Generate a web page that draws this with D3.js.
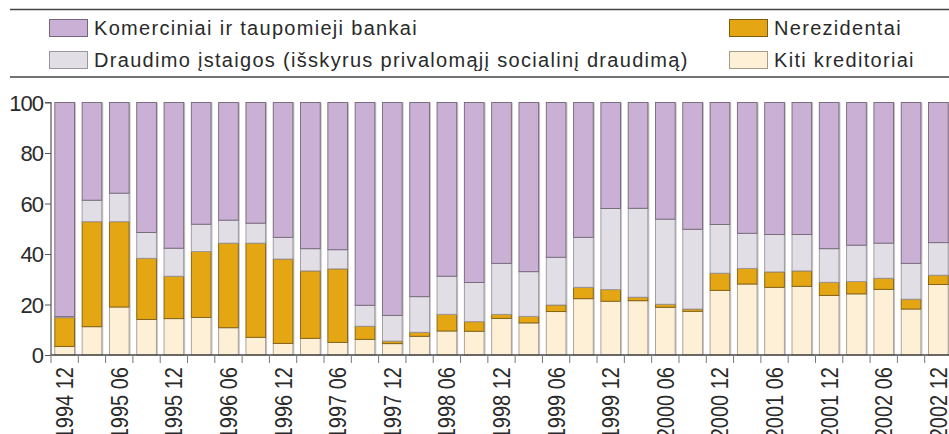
<!DOCTYPE html>
<html>
<head>
<meta charset="utf-8">
<script src="https://cdn.jsdelivr.net/npm/d3@7"></script>
<style>
  body { margin: 0; background: #fff; }
  svg { display: block; }
  .legend text { font-family: "Liberation Sans", Arial, sans-serif; font-size: 20px; letter-spacing: 1.3px; fill: #2a2a2a; }
  .axis text { font-family: "Liberation Sans", Arial, sans-serif; fill: #2a2a2a; }
</style>
</head>
<body>
<div id="chart"></div>
<script>
// quarterly periods 1994 12 .. 2002 12
const periods = ["1994 12","1995 03","1995 06","1995 09","1995 12","1996 03","1996 06","1996 09","1996 12",
  "1997 03","1997 06","1997 09","1997 12","1998 03","1998 06","1998 09","1998 12","1999 03","1999 06",
  "1999 09","1999 12","2000 03","2000 06","2000 09","2000 12","2001 03","2001 06","2001 09","2001 12",
  "2002 03","2002 06","2002 09","2002 12"];

const kiti = [3.4,11.2,19.0,14.1,14.4,14.9,10.8,7.0,4.6,6.6,5.0,6.2,4.5,7.4,9.5,9.4,14.5,12.7,17.2,22.3,21.3,
  21.5,18.9,17.3,25.6,28.1,26.8,27.2,23.6,24.2,26.0,18.2,27.9];
const nerez = [11.4,41.6,33.8,24.2,16.8,26.1,33.5,37.3,33.4,26.7,29.1,5.2,1.0,1.6,6.6,3.8,1.6,2.6,2.6,4.5,4.6,
  1.4,1.2,0.9,6.8,6.2,6.1,6.1,5.2,4.9,4.4,3.9,3.7];
const draud = [0.4,8.5,11.3,10.2,11.1,10.8,9.1,7.9,8.6,8.8,7.6,8.3,10.2,14.1,15.1,15.5,20.2,17.7,18.9,19.8,32.1,
  35.2,33.7,31.6,19.3,13.9,14.8,14.4,13.3,14.4,13.9,14.2,12.9];
const komerc = [84.8,38.7,35.9,51.5,57.7,48.2,46.6,47.8,53.4,57.9,58.3,80.3,84.3,76.9,68.8,71.3,63.7,67.0,61.3,
  53.4,42.0,41.9,46.2,50.2,48.3,51.8,52.3,52.3,57.9,56.5,55.7,63.7,55.5];

const yTicks = [0, 20, 40, 60, 80, 100];

const seriesKeys = ["kiti", "nerez", "draud", "komerc"];
const seriesNames = {
  komerc: "Komerciniai ir taupomieji bankai",
  nerez: "Nerezidentai",
  draud: "Draudimo įstaigos (išskyrus privalomąjį socialinį draudimą)",
  kiti: "Kiti kreditoriai"
};
const fills = { komerc: "#cbb0d5", nerez: "#e5a614", draud: "#e2dee6", kiti: "#fdf0d6" };
const strokes = { komerc: "#736676", nerez: "#7d5d12", draud: "#9a96a0", kiti: "#a69c8c" };

const W = 949, H = 434;
const x0 = 51, x1 = 952, y0 = 355, y1 = 102.5;

const rows = periods.map((p, i) => ({ period: p, kiti: kiti[i], nerez: nerez[i], draud: draud[i], komerc: komerc[i] }));

const svg = d3.select("#chart").append("svg").attr("width", W).attr("height", H);

// legend block with rules
svg.append("line").attr("x1", 10).attr("x2", W).attr("y1", 9.5).attr("y2", 9.5)
  .attr("stroke", "#444").attr("stroke-width", 1.4);
svg.append("line").attr("x1", 10).attr("x2", W).attr("y1", 77).attr("y2", 77)
  .attr("stroke", "#444").attr("stroke-width", 1.4);

const legendItems = [
  { key: "komerc", x: 49, y: 19 },
  { key: "draud", x: 49, y: 51 },
  { key: "nerez", x: 729, y: 19 },
  { key: "kiti", x: 729, y: 51 }
];
const lg = svg.append("g").attr("class", "legend");
legendItems.forEach(function(it) {
  lg.append("rect").attr("x", it.x + 0.5).attr("y", it.y + 0.5).attr("width", 38).attr("height", 17)
    .attr("fill", fills[it.key]).attr("stroke", strokes[it.key]).attr("stroke-width", 1);
  lg.append("text").attr("x", it.x + 45).attr("y", it.y + 16).text(seriesNames[it.key]);
});

let xScale = d3.scaleBand().domain(periods).range([x0, x1]).paddingInner(0.28).paddingOuter(0.14);
let yScale = d3.scaleLinear().domain([0, 100]).range([y0, y1]);

const stacked = d3.stack().keys(seriesKeys)(rows);

// bar shadows
svg.append("g").selectAll("rect").data(rows).join("rect")
  .attr("x", d => xScale(d.period) + 1.5)
  .attr("y", yScale(100))
  .attr("width", xScale.bandwidth())
  .attr("height", yScale(0) - yScale(100))
  .attr("fill", "#c4c4c4");

const layer = svg.append("g").selectAll("g").data(stacked).join("g")
  .attr("fill", d => fills[d.key])
  .attr("stroke", d => strokes[d.key])
  .attr("stroke-width", 0.9);

layer.selectAll("rect").data(d => d).join("rect")
  .attr("x", d => xScale(d.data.period))
  .attr("y", d => yScale(d[1]))
  .attr("width", xScale.bandwidth())
  .attr("height", d => yScale(d[0]) - yScale(d[1]));

// y axis
let yAxis = d3.axisLeft(yScale).tickValues(yTicks).tickSize(6).tickPadding(2);
const gy = svg.append("g").attr("class", "axis").attr("transform", "translate(" + x0 + ",0)").call(yAxis);
gy.select(".domain").attr("stroke", "#555").attr("stroke-width", 1.2).attr("d", "M-6," + y1 + "H0V" + y0);
gy.selectAll(".tick line").attr("stroke", "#555");
gy.selectAll(".tick text").style("font-size", "22px").style("letter-spacing", "-1px").attr("dy", "0.36em");

// x axis: ticks at band boundaries, labels every half year
const step = xScale.step();
const gx = svg.append("g").attr("class", "axis");
gx.append("line").attr("x1", x0).attr("x2", W).attr("y1", y0).attr("y2", y0)
  .attr("stroke", "#444").attr("stroke-width", 1.4);
gx.selectAll(".xtick").data(periods).join("line")
  .attr("class", "xtick")
  .attr("x1", d => xScale(d) - step * 0.14)
  .attr("x2", d => xScale(d) - step * 0.14)
  .attr("y1", y0).attr("y2", y0 + 8)
  .attr("stroke", "#777").attr("stroke-width", 1);
gx.selectAll(".xlabel").data(periods.filter((p, i) => i % 2 === 0)).join("text")
  .attr("class", "xlabel")
  .attr("transform", d => "translate(" + (xScale(d) + xScale.bandwidth() / 2) + "," + (y0 + 12) + ") rotate(-90) scale(1,1.18)")
  .attr("text-anchor", "end")
  .attr("dy", "0.36em")
  .style("font-size", "20px")
  .text(d => d);
</script>
</body>
</html>
